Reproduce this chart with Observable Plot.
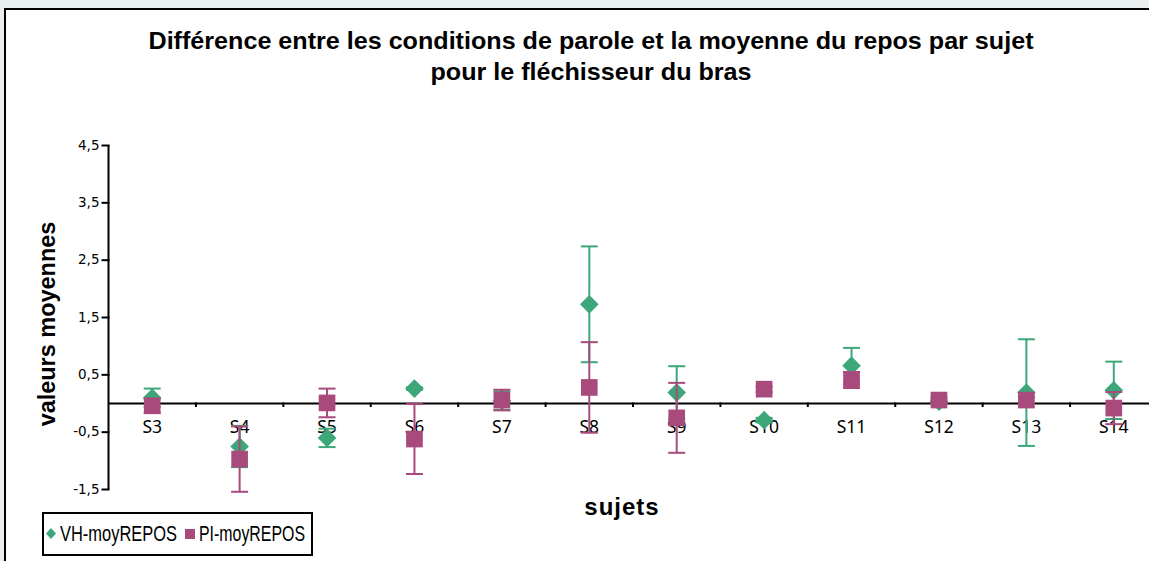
<!DOCTYPE html>
<html>
<head>
<meta charset="utf-8">
<script src="https://cdn.jsdelivr.net/npm/d3@7"></script>
<script src="https://cdn.jsdelivr.net/npm/@observablehq/plot@0.6"></script>
<style>
  html, body { margin: 0; padding: 0; }
  body { width: 1149px; height: 561px; overflow: hidden; background: #eaf0f0; position: relative; }
  #frame { position: absolute; left: 4px; top: 8px; width: 1200px; height: 600px; background: #fff; border: 2px solid #000; box-sizing: border-box; }
  #chart { position: absolute; left: 0; top: 0; }
  .title { position: absolute; left: 591px; white-space: nowrap;
    font-family: "Liberation Sans", Arial, sans-serif; font-weight: bold; font-size: 24px; color: #000; }
  #ylabel { position: absolute; left: 47px; top: 324px; transform: translate(-50%, -50%) rotate(-90deg) scaleX(1.02); white-space: nowrap;
    font-family: "Liberation Sans", Arial, sans-serif; font-weight: bold; font-size: 23px; }
  #xlabel { position: absolute; left: 622px; top: 507px; transform: translate(-50%, -50%); white-space: nowrap;
    font-family: "Liberation Sans", Arial, sans-serif; font-weight: bold; font-size: 24px; letter-spacing: 1px; }
  #legend { position: absolute; left: 42px; top: 512px; width: 271px; height: 44px; box-sizing: border-box; border: 2px solid #000; background: #fff;
    font-family: "Liberation Sans", Arial, sans-serif; font-size: 22px; white-space: nowrap; }
  #legend .item { position: absolute; top: 50%; display: flex; align-items: center; transform: translateY(-50%); }
  #legend .label { display: inline-block; transform-origin: 0 50%; }
</style>
</head>
<body>
<div id="frame"></div>
<div id="chart"></div>
<div class="title" id="t1" style="top:41px">Différence entre les conditions de parole et la moyenne du repos par sujet</div>
<div class="title" id="t2" style="top:72px">pour le fléchisseur du bras</div>
<div id="ylabel">valeurs moyennes</div>
<div id="xlabel">sujets</div>
<div id="legend"></div>
<script>
const subjects = ["S3", "S4", "S5", "S6", "S7", "S8", "S9", "S10", "S11", "S12", "S13", "S14"];
const vhMean = [0.10, -0.75, -0.60, 0.26, 0.05, 1.73, 0.19, -0.29, 0.66, 0.03, 0.19, 0.23];
const vhErr  = [0.16, 0.36, 0.16, 0.02, 0.16, 1.01, 0.46, 0.04, 0.31, 0.03, 0.93, 0.50];
const piMean = [-0.04, -0.97, 0.01, -0.62, 0.06, 0.28, -0.25, 0.25, 0.41, 0.06, 0.06, -0.08];
const piErr  = [0.12, 0.57, 0.25, 0.61, 0.18, 0.79, 0.61, 0.05, 0.14, 0.05, 0.05, 0.28];
const yTicks = [-1.5, -0.5, 0.5, 1.5, 2.5, 3.5, 4.5];
const seriesNames = ["VH-moyREPOS", "PI-moyREPOS"];
const seriesColors = ["#3da77a", "#a84a7b"];

const rows = (means, errs) => subjects.map((s, i) => ({
  s, pos: i + 0.5, mean: means[i], lo: means[i] - errs[i], hi: means[i] + errs[i]
}));
const vh = rows(vhMean, vhErr);
const pi = rows(piMean, piErr);
const boundaries = d3.range(1, subjects.length + 1);

const rOf = size => Math.sqrt(size / Math.PI);
const capSymbol = { draw(ctx, size) { const r = rOf(size); ctx.moveTo(-r, 0); ctx.lineTo(r, 0); } };
const vTick = { draw(ctx, size) { const r = rOf(size); ctx.moveTo(0, -1); ctx.lineTo(0, r); } };
const hTick = { draw(ctx, size) { const r = rOf(size); ctx.moveTo(-r, 0); ctx.lineTo(1, 0); } };
const fmt = d => String(d).replace(".", ",");

function errorMarks(data, color, symbol, r) {
  return [
    Plot.ruleX(data, { x: "pos", y1: "lo", y2: "hi", stroke: color, strokeWidth: 2 }),
    Plot.dot(data, { x: "pos", y: "hi", symbol: capSymbol, r: 8.5, stroke: color, strokeWidth: 2, fill: "none" }),
    Plot.dot(data, { x: "pos", y: "lo", symbol: capSymbol, r: 8.5, stroke: color, strokeWidth: 2, fill: "none" }),
    Plot.dot(data, { x: "pos", y: "mean", symbol, r, fill: color, stroke: "none" })
  ];
}

const chart = Plot.plot({
  width: 1149,
  height: 561,
  marginLeft: 108,
  marginRight: 0,
  marginTop: 145,
  marginBottom: 72,
  style: { background: "transparent", fontFamily: "'Noto Sans', sans-serif", overflow: "hidden" },
  x: { domain: [0, subjects.length], range: [108, 1157], axis: null },
  y: { domain: [-1.5, 4.5], axis: null },
  marks: [
    // y axis: line, ticks, labels
    Plot.ruleX([0], { stroke: "#000", strokeWidth: 2 }),
    Plot.dot(yTicks, { x: 0, y: d => d, symbol: hTick, r: 7, stroke: "#000", strokeWidth: 2 }),
    Plot.text(yTicks, { x: 0, y: d => d, text: fmt, textAnchor: "end", dx: -9, fontSize: 13.5,
      fontFamily: "DejaVu Sans, sans-serif", fill: "#000" }),
    // x axis at zero: line, boundary ticks, category labels
    Plot.ruleY([0], { stroke: "#000", strokeWidth: 2 }),
    Plot.dot(boundaries, { x: d => d, y: 0, symbol: vTick, r: 3.5, stroke: "#000", strokeWidth: 2 }),
    Plot.text(subjects, { x: (d, i) => i + 0.5, y: 0, text: d => d, dy: 24, fontSize: 17.5, fill: "#000" }),
    ...errorMarks(vh, seriesColors[0], "diamond2", 8.4),
    ...errorMarks(pi, seriesColors[1], "square", 9.4)
  ]
});
document.getElementById("chart").appendChild(chart);

// condense the title to the reference's narrow bold look
const t1 = document.getElementById("t1"), t2 = document.getElementById("t2");
const sx = 885 / t1.getBoundingClientRect().width;
[t1, t2].forEach(t => { t.style.transform = `translate(-50%, -50%) scaleX(${sx})`; });

// legend
const legend = document.getElementById("legend");
const itemLeft = [1, 140];
const labelWidth = [117, 106];
seriesNames.forEach((name, k) => {
  const item = document.createElement("div");
  item.className = "item";
  item.style.left = itemLeft[k] + "px";
  const shape = k === 0
    ? `<svg width="13" height="14" style="margin-right:2px"><path d="M6,1L11,6.5L6,12L1,6.5Z" fill="${seriesColors[k]}"/></svg>`
    : `<svg width="13" height="14" style="margin-right:2px"><rect x="1" y="2" width="10" height="10" fill="${seriesColors[k]}"/></svg>`;
  item.innerHTML = shape + `<span class="label">${name}</span>`;
  legend.appendChild(item);
  const lab = item.querySelector(".label");
  lab.style.transform = `scaleX(${labelWidth[k] / lab.getBoundingClientRect().width})`;
});
</script>
</body>
</html>
